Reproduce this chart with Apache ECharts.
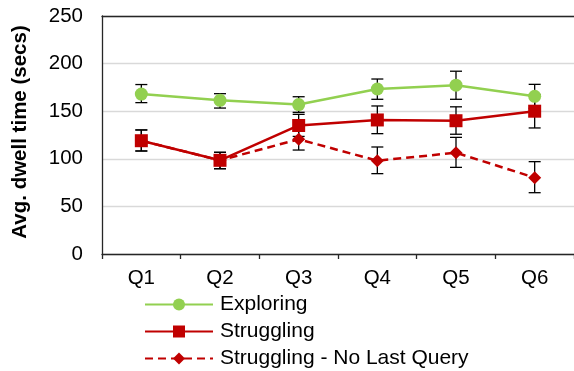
<!DOCTYPE html>
<html>
<head>
<meta charset="utf-8">
<script src="https://cdn.jsdelivr.net/npm/echarts@6/dist/echarts.min.js"></script>
<style>
html,body{margin:0;padding:0;background:#fff;}
#chart{width:574px;height:371px;}
</style>
</head>
<body>
<div id="chart"></div>
<script>
const categories = ['Q1', 'Q2', 'Q3', 'Q4', 'Q5', 'Q6'];
const yTicks = [0, 50, 100, 150, 200, 250];

const exploring = [168, 161.4, 157, 173.3, 177.3, 165.6];
const exploringLow = [159, 153.3, 148.8, 162.5, 162.5, 153];
const exploringHigh = [178, 168.4, 165.2, 183.8, 192, 178.2];

const struggling = [119, 98.4, 135, 140.8, 140, 150];
const strugglingLow = [108.2, 89.6, 123.5, 126.4, 125.8, 132.4];
const strugglingHigh = [130.3, 106.8, 146.7, 155.5, 154.6, 167.5];

const noLast = [119, 98.4, 120.5, 98, 106.4, 80.2];
const noLastLow = [108.2, 89.6, 109.2, 84.4, 91, 64.4];
const noLastHigh = [130.3, 106.8, 131.8, 112.4, 122.5, 97];

const FONT = "'Liberation Sans', Arial, sans-serif";
const GREEN = '#92D050';
const RED = '#C00000';

function errorSeries(low, high) {
  return {
    type: 'custom',
    silent: true,
    z: 1,
    data: categories.map((c, i) => [i, low[i], high[i]]),
    encode: { x: 0, y: [1, 2] },
    renderItem: function (params, api) {
      const x = api.value(0);
      const lo = api.coord([x, api.value(1)]);
      const hi = api.coord([x, api.value(2)]);
      const w = 6;
      const st = { stroke: '#000', lineWidth: 1.3 };
      return {
        type: 'group',
        children: [
          { type: 'line', shape: { x1: lo[0], y1: lo[1], x2: hi[0], y2: hi[1] }, style: st },
          { type: 'line', shape: { x1: lo[0] - w, y1: lo[1], x2: lo[0] + w, y2: lo[1] }, style: st },
          { type: 'line', shape: { x1: hi[0] - w, y1: hi[1], x2: hi[0] + w, y2: hi[1] }, style: st }
        ]
      };
    }
  };
}

const chart = echarts.init(document.getElementById('chart'), null, { renderer: 'canvas' });
chart.setOption({
  animation: false,
  textStyle: { fontFamily: FONT },
  grid: { left: 102, top: 16, right: -2, bottom: 117 },
  legend: {
    orient: 'vertical',
    left: 144,
    top: 294,
    padding: 0,
    height: 80,
    itemWidth: 68,
    itemHeight: 15,
    itemGap: 6,
    data: ['Exploring', 'Struggling', 'Struggling - No Last Query'],
    textStyle: { fontFamily: FONT, fontSize: 21, color: '#000', lineHeight: 20, padding: [0, 0, 0, 2] }
  },
  xAxis: [{
    type: 'category',
    data: categories,
    axisLine: { lineStyle: { color: '#262626', width: 1.3 } },
    axisTick: { show: true, length: 5, lineStyle: { color: '#262626', width: 1.3 } },
    axisLabel: { fontFamily: FONT, fontSize: 20.5, color: '#000', margin: 14 },
    splitLine: { show: false }
  }, {
    type: 'category',
    position: 'top',
    data: categories,
    axisLine: { show: true, lineStyle: { color: '#262626', width: 1.3 } },
    axisTick: { show: false },
    axisLabel: { show: false }
  }],
  yAxis: {
    type: 'value',
    min: yTicks[0],
    max: yTicks[yTicks.length - 1],
    interval: 50,
    name: 'Avg. dwell time (secs)',
    nameLocation: 'middle',
    nameGap: 71,
    nameTextStyle: { fontFamily: FONT, fontSize: 20.5, fontWeight: 'bold', color: '#000', padding: [0, 0, 0, 6] },
    axisLine: { show: true, lineStyle: { color: '#262626', width: 1.3 } },
    axisTick: { show: false },
    axisLabel: { fontFamily: FONT, fontSize: 20.5, color: '#000', margin: 19 },
    splitLine: { lineStyle: { color: '#d9d9d9', width: 1.3 } }
  },
  series: [
    errorSeries(noLastLow, noLastHigh),
    errorSeries(strugglingLow, strugglingHigh),
    errorSeries(exploringLow, exploringHigh),
    {
      name: 'Struggling - No Last Query',
      type: 'line',
      z: 2,
      data: noLast,
      symbol: 'diamond',
      symbolSize: 13,
      lineStyle: { color: RED, width: 2.5, type: [8, 5] },
      itemStyle: { color: RED }
    },
    {
      name: 'Struggling',
      type: 'line',
      z: 3,
      data: struggling,
      symbol: 'rect',
      symbolSize: 13,
      lineStyle: { color: RED, width: 2.5 },
      itemStyle: { color: RED }
    },
    {
      name: 'Exploring',
      type: 'line',
      z: 4,
      data: exploring,
      symbol: 'circle',
      symbolSize: 13,
      lineStyle: { color: GREEN, width: 2.5 },
      itemStyle: { color: GREEN }
    }
  ]
});
</script>
</body>
</html>
